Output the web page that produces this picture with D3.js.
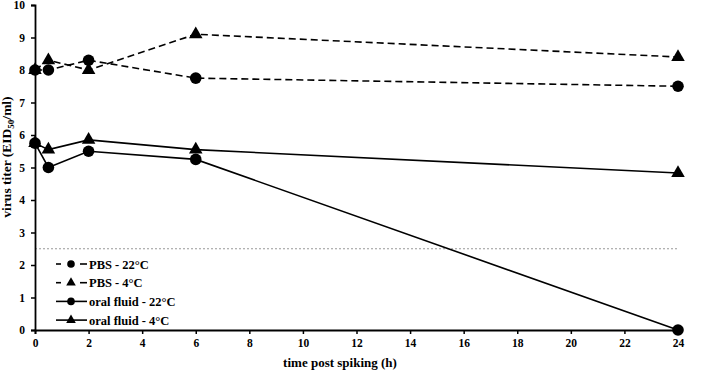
<!DOCTYPE html>
<html><head><meta charset="utf-8">
<script src="https://cdn.jsdelivr.net/npm/d3@7"></script>
<style>body{margin:0;background:#fff}svg{display:block}text{font-family:"Liberation Serif","Times New Roman",serif;font-weight:bold}</style>
</head><body>
<script>
const hours = [0, 0.5, 2, 6, 24];
const pbs22 = [8, 8, 8.3, 7.75, 7.5];
const pbs4 = [8, 8.3, 8, 9.1, 8.4];
const oral22 = [5.75, 5, 5.5, 5.25, 0];
const oral4 = [5.75, 5.55, 5.85, 5.55, 4.83];
const xTicks = [0,2,4,6,8,10,12,14,16,18,20,22,24];
const yTicks = [0,1,2,3,4,5,6,7,8,9,10];
const limit = 2.5;
const seriesNames = ["PBS - 22°C","PBS - 4°C","oral fluid - 22°C","oral fluid - 4°C"];

const W=703,H=372;
const svg=d3.select("body").append("svg").attr("width",W).attr("height",H);
const x=d3.scaleLinear().domain([0,24]).range([35,678]);
const y=d3.scaleLinear().domain([0,10]).range([330,5]);

// limit line
svg.append("line").attr("x1",x(0)).attr("x2",x(24)).attr("y1",y(limit)).attr("y2",y(limit))
  .attr("stroke","#999").attr("stroke-width",1).attr("stroke-dasharray","2,2");

const series=[
 {name:seriesNames[0],vals:pbs22,dash:"7,4",shape:"c"},
 {name:seriesNames[1],vals:pbs4,dash:"7,4",shape:"t"},
 {name:seriesNames[2],vals:oral22,dash:null,shape:"c"},
 {name:seriesNames[3],vals:oral4,dash:null,shape:"t"}];
const line=d3.line().x(d=>x(d[0])).y(d=>y(d[1]));
function marker(g,cx,cy,shape,r,ts){
  if(shape==="c") g.append("circle").attr("cx",cx).attr("cy",cy).attr("r",r).attr("fill","#000");
  else g.append("path").attr("d",d3.symbol().type(d3.symbolTriangle).size(ts)()).attr("transform",`translate(${cx},${cy})`).attr("fill","#000");
}
series.forEach(s=>{
  const pts=hours.map((h,i)=>[h,s.vals[i]]);
  svg.append("path").attr("d",line(pts)).attr("fill","none").attr("stroke","#000").attr("stroke-width",1.6)
    .attr("stroke-dasharray",s.dash);
  pts.forEach(p=>marker(svg,x(p[0]),y(p[1]),s.shape,5.8,80));
});

// axes
const xa=svg.append("g").attr("transform",`translate(0,${y(0)})`)
  .call(d3.axisBottom(x).tickValues(xTicks).tickSize(4).tickPadding(5));
const ya=svg.append("g").attr("transform",`translate(${x(0)},0)`)
  .call(d3.axisLeft(y).tickValues(yTicks).tickSize(4).tickPadding(6));
[xa,ya].forEach(a=>{
  a.select(".domain").attr("stroke-width",1.8);
  a.selectAll(".tick line").attr("stroke-width",1.5);
  a.selectAll("text").attr("font-size",11.5).attr("font-family","Liberation Serif").attr("font-weight","bold").attr("fill","#000");
});

// axis titles
svg.append("text").attr("x",340).attr("y",367).attr("text-anchor","middle").attr("font-size",13).text("time post spiking (h)");
const yt=svg.append("text").attr("transform",`translate(11,157) rotate(-90)`).attr("text-anchor","middle").attr("font-size",13.5);
yt.append("tspan").text("virus titer (EID");
yt.append("tspan").attr("font-size",9).attr("dy",3).text("50");
yt.append("tspan").attr("dy",-3).text("/ml)");

// legend
const lg=svg.append("g");
series.forEach((s,i)=>{
  const ly=264+i*18.7;
  if(s.dash){
    lg.append("line").attr("x1",56).attr("x2",61).attr("y1",ly).attr("y2",ly).attr("stroke","#000").attr("stroke-width",1.6);
    lg.append("line").attr("x1",80).attr("x2",87).attr("y1",ly).attr("y2",ly).attr("stroke","#000").attr("stroke-width",1.6);
  } else {
    lg.append("line").attr("x1",56).attr("x2",87).attr("y1",ly).attr("y2",ly).attr("stroke","#000").attr("stroke-width",1.6);
  }
  marker(lg,71,ly,s.shape,3.8,40);
  lg.append("text").attr("x",89).attr("y",ly+4.5).attr("font-size",12.5).text(s.name);
});
</script>
</body></html>
